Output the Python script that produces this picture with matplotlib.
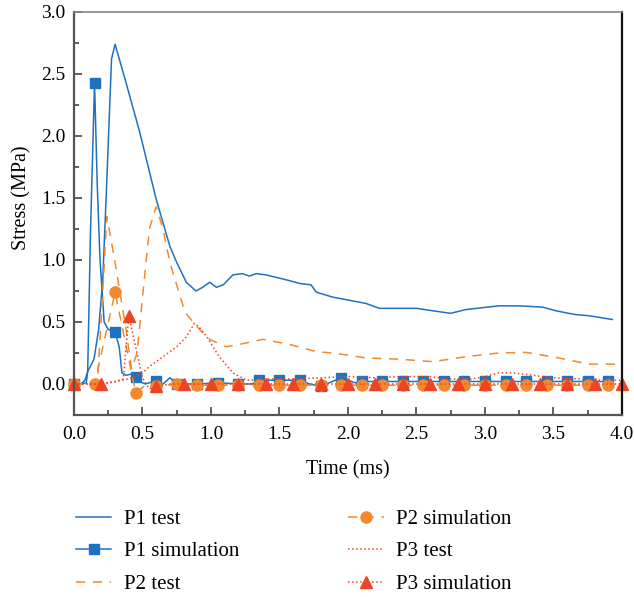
import matplotlib
matplotlib.use("Agg")
import matplotlib.pyplot as plt
from matplotlib.ticker import MultipleLocator

plt.rcParams["font.family"] = ["Liberation Serif", "DejaVu Serif"]
plt.rcParams["mathtext.fontset"] = "stix"

# ---------------------------------------------------------------- test data
# P1 test (time in ms, stress in MPa)
t_p1 = [0.0, 0.05, 0.08, 0.10, 0.146, 0.18, 0.21, 0.23, 0.24, 0.274, 0.30,
        0.38, 0.48, 0.60, 0.70, 0.75, 0.82, 0.89, 0.94, 0.99, 1.04, 1.09,
        1.16, 1.23, 1.28, 1.33, 1.40, 1.55, 1.65, 1.73, 1.77, 1.89, 2.13,
        2.23, 2.50, 2.62, 2.75, 2.86, 3.10, 3.25, 3.42, 3.52, 3.61, 3.66,
        3.76, 3.93]
s_p1 = [0.0, 0.0, 0.03, 0.10, 0.20, 0.44, 0.84, 1.38, 1.65, 2.62, 2.74,
        2.43, 2.03, 1.49, 1.11, 0.98, 0.82, 0.75, 0.78, 0.82, 0.78, 0.80,
        0.88, 0.89, 0.87, 0.89, 0.88, 0.84, 0.81, 0.80, 0.74, 0.70, 0.65,
        0.61, 0.61, 0.59, 0.57, 0.60, 0.63, 0.63, 0.62, 0.59, 0.57, 0.56,
        0.55, 0.52]

# P2 test
t_p2 = [0.0, 0.17, 0.20, 0.24, 0.30, 0.38, 0.42, 0.46, 0.55, 0.60, 0.65,
        0.70, 0.81, 0.89, 0.99, 1.11, 1.21, 1.38, 1.57, 1.77, 1.89, 2.13,
        2.37, 2.62, 2.86, 3.10, 3.30, 3.54, 3.76, 4.0]
s_p2 = [0.0, 0.0, 0.55, 1.35, 0.98, 0.44, 0.12, 0.25, 1.25, 1.43, 1.25,
        0.98, 0.58, 0.47, 0.36, 0.30, 0.32, 0.36, 0.32, 0.26, 0.25, 0.21,
        0.20, 0.18, 0.22, 0.25, 0.255, 0.21, 0.16, 0.16]

# P3 test
t_p3 = [0.0, 0.20, 0.26, 0.35, 0.43, 0.50, 0.55, 0.65, 0.75, 0.82, 0.88,
        0.92, 0.97, 1.06, 1.16, 1.26, 1.40, 1.60, 1.80, 2.00, 2.20, 2.40,
        2.60, 2.75, 2.90, 3.00, 3.10, 3.20, 3.35, 3.50, 3.70, 3.85, 4.0]
s_p3 = [0.0, 0.0, 0.01, 0.03, 0.05, 0.09, 0.14, 0.22, 0.30, 0.38, 0.49,
        0.45, 0.38, 0.22, 0.09, 0.03, 0.04, 0.04, 0.05, 0.06, 0.05, 0.06,
        0.06, 0.04, 0.04, 0.06, 0.09, 0.09, 0.07, 0.05, 0.04, 0.03, 0.03]

# ---------------------------------------------------------- simulation data
t_p1s = [0.0, 0.05, 0.09, 0.10, 0.12, 0.15, 0.17, 0.19, 0.22, 0.25, 0.30,
         0.33, 0.35, 0.38, 0.42, 0.45, 0.48, 0.52, 0.55, 0.60, 0.65, 0.70,
         0.75, 0.90, 1.05, 1.20, 1.30, 1.35, 1.50, 1.65, 1.72, 1.80, 1.95,
         2.05, 2.10, 2.25, 2.40, 2.55, 2.70, 2.85, 3.00, 3.15, 3.30, 3.45,
         3.60, 3.75, 3.90]
s_p1s = [0.0, 0.0, 0.01, 0.10, 1.20, 2.43, 1.60, 1.00, 0.50, 0.44, 0.42,
         0.30, 0.09, 0.07, 0.08, 0.06, 0.02, 0.0, 0.01, 0.02, 0.0, 0.05,
         0.0, 0.0, 0.01, 0.0, 0.0, 0.03, 0.03, 0.03, 0.0, -0.02, 0.05,
         0.01, 0.02, 0.02, 0.02, 0.02, 0.02, 0.02, 0.02, 0.02, 0.02, 0.02,
         0.02, 0.02, 0.02]

t_p2s = [0.0, 0.15, 0.30, 0.45, 0.52, 0.60, 0.75, 0.90, 1.05, 1.20, 1.35,
         1.50, 1.65, 1.80, 1.95, 2.10, 2.25, 2.40, 2.55, 2.70, 2.85, 3.00,
         3.15, 3.30, 3.45, 3.60, 3.75, 3.90]
s_p2s = [0.0, 0.0, 0.74, -0.07, -0.01, -0.02, 0.0, -0.01, -0.01, -0.01,
         -0.01, -0.01, -0.01, -0.01, -0.01, -0.01, -0.01, -0.01, -0.01,
         -0.01, -0.01, -0.01, -0.01, -0.01, -0.01, -0.01, -0.01, -0.01]

t_p3s = [0.0, 0.20, 0.30, 0.36, 0.40, 0.45, 0.50, 0.55, 0.60, 0.70, 0.80,
         1.00, 1.20, 1.40, 1.60, 1.80, 2.00, 2.20, 2.40, 2.60, 2.80, 3.00,
         3.20, 3.40, 3.60, 3.80, 4.00]
s_p3s = [0.0, 0.0, 0.02, 0.04, 0.55, 0.30, 0.05, -0.04, -0.02, 0.0, 0.0,
         0.0, 0.0, 0.0, 0.0, 0.0, 0.0, 0.0, 0.0, 0.0, 0.0, 0.0, 0.0, 0.0,
         0.0, 0.0, 0.0]


def marks(ts, step):
    """indices of the points that sit on the output step of the solver"""
    return [i for i, t in enumerate(ts) if abs(t / step - round(t / step)) < 1e-6]


BLUE = "#1f72bf"
ORANGE = "#f4882c"
RED = "#ec4425"

fig = plt.figure(figsize=(6.34, 5.97), dpi=100)
ax = fig.add_axes([0.1167, 0.3049, 0.8643, 0.675])

h1, = ax.plot(t_p1, s_p1, "-", color=BLUE, lw=1.1, label="P1 test")
h2, = ax.plot(t_p1s, s_p1s, "-", color=BLUE, lw=1.1, marker="s", ms=7,
              markevery=marks(t_p1s, 0.15), label="P1 simulation")
h3, = ax.plot(t_p2, s_p2, "--", color=ORANGE, lw=1.1, dashes=(6, 5),
              label="P2 test")
h4, = ax.plot(t_p2s, s_p2s, "--", color=ORANGE, lw=1.1, dashes=(6, 5),
              marker="o", ms=8, markevery=marks(t_p2s, 0.15),
              label="P2 simulation")
h5, = ax.plot(t_p3, s_p3, ":", color=RED, lw=1.1, label="P3 test")
h6, = ax.plot(t_p3s, s_p3s, ":", color=RED, lw=1.1, marker="^", ms=9,
              markevery=marks(t_p3s, 0.2), label="P3 simulation")
for h in (h1, h2, h3, h4, h5, h6):
    h.set_clip_on(False)

ax.set_xlim(0, 4.0)
ax.set_ylim(-0.25, 3.0)
ax.xaxis.set_major_locator(MultipleLocator(0.5))
ax.xaxis.set_minor_locator(MultipleLocator(0.25))
ax.yaxis.set_major_locator(MultipleLocator(0.5))
ax.yaxis.set_minor_locator(MultipleLocator(0.25))
ax.tick_params(which="both", direction="in", top=False, right=False,
               labelsize=14, color="#444444", width=1.2)
ax.tick_params(axis="x", pad=8)
ax.tick_params(axis="y", pad=6)
ax.tick_params(which="major", length=6)
ax.tick_params(which="minor", length=3.5)

for side in ("left", "bottom"):
    ax.spines[side].set_color("#555555")
    ax.spines[side].set_linewidth(1.6)
ax.spines["top"].set_color("#888888")
ax.spines["top"].set_linewidth(1.2)
ax.spines["right"].set_color("#111111")
ax.spines["right"].set_linewidth(1.6)

ax.set_xlabel("Time (ms)", fontsize=14.5, labelpad=12)
ax.set_ylabel("Stress (MPa)", fontsize=14.5)
ax.yaxis.set_label_coords(-0.078, 0.54)

fig.legend(handles=[h1, h2, h3, h4, h5, h6], ncol=2, frameon=False,
           loc="upper left", bbox_to_anchor=(0.12, 0.147), fontsize=15,
           handlelength=1.7, handletextpad=0.62, columnspacing=5.2,
           labelspacing=0.62, borderpad=0, borderaxespad=0)

fig.savefig("out.png", dpi=100)
